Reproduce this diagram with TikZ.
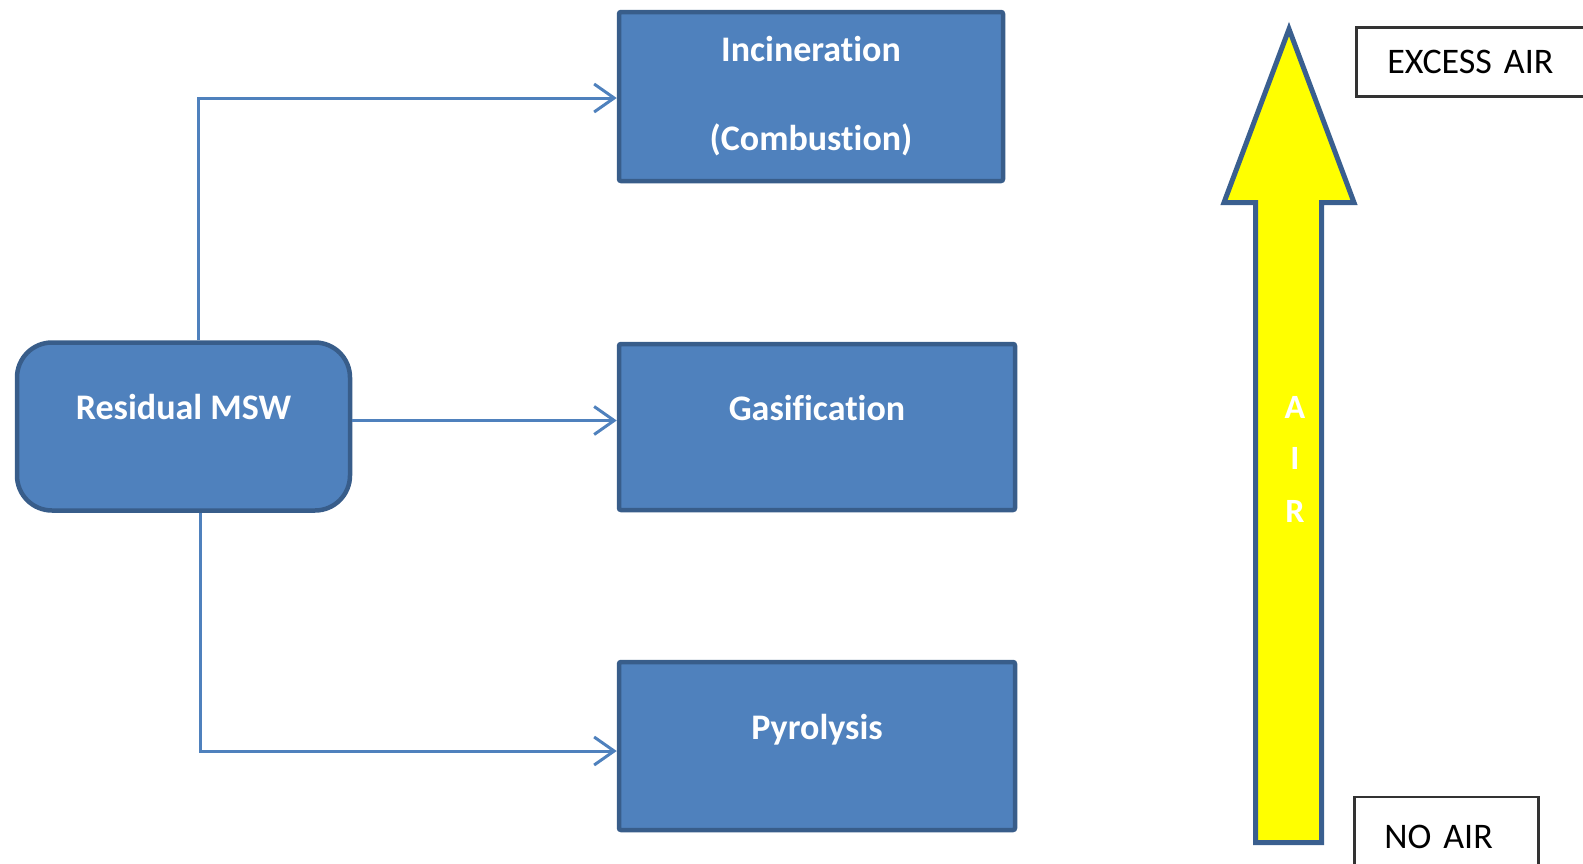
\documentclass[tikz,border=0pt]{standalone}
\usepackage{fontspec}
\setmainfont[Ligatures=NoCommon]{Carlito}
\usetikzlibrary{arrows.meta}
\definecolor{boxfill}{HTML}{4F81BD}
\definecolor{boxline}{HTML}{385D8A}
\definecolor{connc}{HTML}{4F81BD}
\definecolor{arrowline}{HTML}{3A5F8F}
\definecolor{airyellow}{HTML}{FFFF00}
\definecolor{outline}{HTML}{333333}
\begin{document}
\begin{tikzpicture}[x=1pt,y=-1pt,
  procbox/.style={draw=boxline, line width=4.5pt, fill=boxfill, rounded corners=2pt,
    text=white, font=\fontsize{36}{43}\selectfont\bfseries},
  shifttext/.style={text height=30pt, text depth=44pt},
  conn/.style={draw=connc, line width=3pt, -{Straight Barb[length=20pt,width=28pt,line width=3pt]}},
  outbox/.style={draw=outline, line width=2.5pt, fill=white, align=left,
    font=\fontsize{36}{43}\selectfont, text=black},
  airletter/.style={text=white, font=\fontsize{34}{40}\selectfont\bfseries, inner sep=0pt}
]
\useasboundingbox (0,0) rectangle (1583,863);

% process boxes
\node (msw) [procbox, shifttext, rounded corners=35pt, minimum width=333pt, minimum height=168pt]
  at (183.5,426.5) {Residual MSW};
\node (inc) [procbox, align=center, font=\fontsize{36}{89}\selectfont\bfseries,
  minimum width=384pt, minimum height=169pt] at (811,96.5) {\raisebox{-3pt}{Incineration}\\\raisebox{-3pt}{(Combustion)}};
\node (gas) [procbox, shifttext, minimum width=396pt, minimum height=166pt] at (817,427) {Gasification};
\node (pyr) [procbox, shifttext, minimum width=396pt, minimum height=168pt] at (817,746) {Pyrolysis};

% connectors
\draw[conn] ([xshift=14.5pt]msw.north) |- ([yshift=-1.5pt]inc.west);
\draw[conn] ([yshift=6pt]msw.east) -- ([yshift=6pt]msw.east -| gas.west);
\draw[conn] ([xshift=16.5pt]msw.south) |- ([yshift=-5pt]pyr.west);

% yellow air arrow
\draw[draw=arrowline, line width=5pt, fill=airyellow, line join=miter]
  (1289,29) -- (1354,202.5) -- (1321.5,202.5) -- (1321.5,842.5) -- (1255.5,842.5)
  -- (1255.5,202.5) -- (1224,202.5) -- cycle;
\node (airA) [airletter] at (1295,407) {A};
\node (airI) [airletter] at (1295,458) {I};
\node (airR) [airletter] at (1295,511) {R};

% side labels
\node (excess) [outbox, anchor=west, minimum width=250pt, minimum height=69pt,
  inner xsep=31pt, text width=188pt] at (1355,62) {EXCESS AIR};
\node (noair) [outbox, anchor=west, minimum width=184pt, minimum height=80pt,
  inner xsep=30pt, text width=124pt] at (1353,837) {NO AIR};
\end{tikzpicture}
\end{document}
